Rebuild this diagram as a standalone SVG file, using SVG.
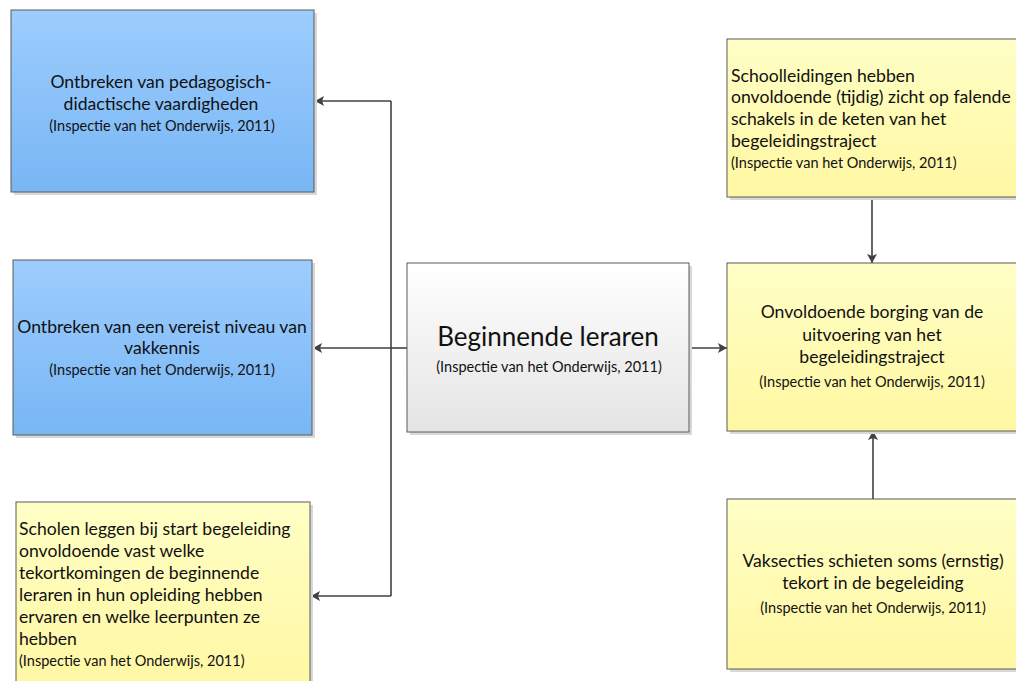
<svg xmlns="http://www.w3.org/2000/svg" width="1016" height="681" viewBox="0 0 1016 681">
  <defs>
    <linearGradient id="gBlue" x1="0" y1="0" x2="0" y2="1">
      <stop offset="0" stop-color="#9DCDFE"/>
      <stop offset="1" stop-color="#78B6F4"/>
    </linearGradient>
    <linearGradient id="gYellow" x1="0" y1="0" x2="0" y2="1">
      <stop offset="0" stop-color="#FFFFC6"/>
      <stop offset="1" stop-color="#FFF7A2"/>
    </linearGradient>
    <linearGradient id="gGray" x1="0" y1="0" x2="0" y2="1">
      <stop offset="0" stop-color="#FFFFFF"/>
      <stop offset="1" stop-color="#E4E4E4"/>
    </linearGradient>
    <marker id="arrow" markerWidth="10" markerHeight="10" refX="9" refY="5" orient="auto" markerUnits="userSpaceOnUse">
      <path d="M0,0 L9,5 L0,10 L2,5 Z" fill="#404040"/>
    </marker>
  </defs>
  <style>
    .box { stroke: #5A5A5A; stroke-width: 1; }
    .shadow { fill: #D8D8D8; }
    .blue { fill: url(#gBlue); }
    .yellow { fill: url(#gYellow); }
    .gray { fill: url(#gGray); }
    .t { font-family: Lato, "Liberation Sans", sans-serif; font-size: 17.6px; fill: #111; }
    .s { font-family: Lato, "Liberation Sans", sans-serif; font-size: 14.5px; fill: #111; }
    .big { font-family: Lato, "Liberation Sans", sans-serif; font-size: 26px; fill: #111; }
    .c { text-anchor: middle; }
    .link { fill: none; stroke: #404040; stroke-width: 1.6; }
  </style>

  <rect width="1016" height="681" fill="#FFFFFF"/>

  <!-- connectors -->
  <g id="connectors">
    <path class="link" d="M407,348 H391" />
    <path class="link" d="M391,101 V596" />
    <path class="link" d="M391,101 H315" marker-end="url(#arrow)"/>
    <path class="link" d="M391,348 H313" marker-end="url(#arrow)"/>
    <path class="link" d="M391,596 H311" marker-end="url(#arrow)"/>
    <path class="link" d="M689,348 H727" marker-end="url(#arrow)"/>
    <path class="link" d="M872,197 V263" marker-end="url(#arrow)"/>
    <path class="link" d="M873,499 V431" marker-end="url(#arrow)"/>
  </g>

  <!-- left: missing pedagogical-didactic skills -->
  <g id="node-pedagogisch">
    <rect class="shadow" x="14" y="13" width="303" height="182"/>
    <rect class="box blue" x="11" y="10" width="303" height="182"/>
    <text class="t c" x="161" y="88">Ontbreken van pedagogisch-</text>
    <text class="t c" x="161" y="110">didactische vaardigheden</text>
    <text class="s c" x="162" y="131">(Inspectie van het Onderwijs, 2011)</text>
  </g>

  <!-- left: missing subject knowledge -->
  <g id="node-vakkennis">
    <rect class="shadow" x="16" y="263" width="299" height="175"/>
    <rect class="box blue" x="13" y="260" width="299" height="175"/>
    <text class="t c" x="162" y="333">Ontbreken van een vereist niveau van</text>
    <text class="t c" x="162" y="354">vakkennis</text>
    <text class="s c" x="162" y="375">(Inspectie van het Onderwijs, 2011)</text>
  </g>

  <!-- left: schools at the start of mentoring -->
  <g id="node-scholen">
    <rect class="shadow" x="19" y="505" width="294" height="190"/>
    <rect class="box yellow" x="16" y="502" width="294" height="190"/>
    <text class="t" x="19" y="535">Scholen leggen bij start begeleiding</text>
    <text class="t" x="19" y="557">onvoldoende vast welke</text>
    <text class="t" x="19" y="579">tekortkomingen de beginnende</text>
    <text class="t" x="19" y="601">leraren in hun opleiding hebben</text>
    <text class="t" x="19" y="623">ervaren en welke leerpunten ze</text>
    <text class="t" x="19" y="645">hebben</text>
    <text class="s" x="19" y="666">(Inspectie van het Onderwijs, 2011)</text>
  </g>

  <!-- centre: beginning teachers -->
  <g id="node-beginnende-leraren">
    <rect class="shadow" x="410" y="266" width="282" height="169"/>
    <rect class="box gray" x="407" y="263" width="282" height="169"/>
    <text class="big c" x="548" y="346">Beginnende leraren</text>
    <text class="s c" x="549" y="372">(Inspectie van het Onderwijs, 2011)</text>
  </g>

  <!-- right: school management oversight -->
  <g id="node-schoolleidingen">
    <rect class="shadow" x="730" y="42" width="300" height="158"/>
    <rect class="box yellow" x="727" y="39" width="300" height="158"/>
    <text class="t" x="731" y="82">Schoolleidingen hebben</text>
    <text class="t" x="731" y="103">onvoldoende (tijdig) zicht op falende</text>
    <text class="t" x="731" y="125">schakels in de keten van het</text>
    <text class="t" x="731" y="147">begeleidingstraject</text>
    <text class="s" x="731" y="168">(Inspectie van het Onderwijs, 2011)</text>
  </g>

  <!-- right: insufficient assurance of the mentoring programme -->
  <g id="node-borging">
    <rect class="shadow" x="730" y="266" width="300" height="168"/>
    <rect class="box yellow" x="727" y="263" width="300" height="168"/>
    <text class="t c" x="872" y="318">Onvoldoende borging van de</text>
    <text class="t c" x="872" y="341">uitvoering van het</text>
    <text class="t c" x="872" y="363">begeleidingstraject</text>
    <text class="s c" x="872" y="387">(Inspectie van het Onderwijs, 2011)</text>
  </g>

  <!-- right: subject departments -->
  <g id="node-vaksecties">
    <rect class="shadow" x="730" y="502" width="300" height="170"/>
    <rect class="box yellow" x="727" y="499" width="300" height="170"/>
    <text class="t c" x="873" y="567">Vaksecties schieten soms (ernstig)</text>
    <text class="t c" x="873" y="589">tekort in de begeleiding</text>
    <text class="s c" x="873" y="613">(Inspectie van het Onderwijs, 2011)</text>
  </g>
</svg>
